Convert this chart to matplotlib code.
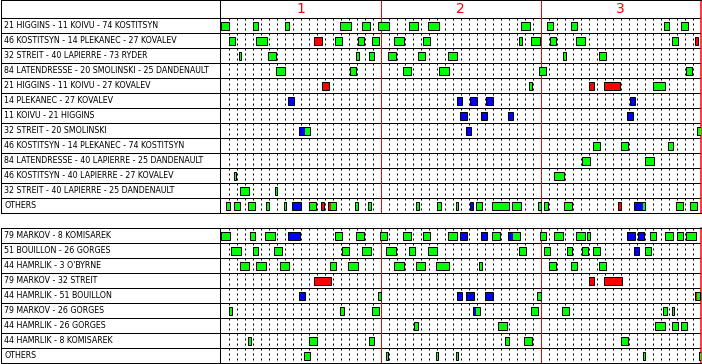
import matplotlib.pyplot as plt

# line combinations, one row each
top_labels = [
    '21 HIGGINS - 11 KOIVU - 74 KOSTITSYN',
    '46 KOSTITSYN - 14 PLEKANEC - 27 KOVALEV',
    '32 STREIT - 40 LAPIERRE - 73 RYDER',
    '84 LATENDRESSE - 20 SMOLINSKI - 25 DANDENAULT',
    '21 HIGGINS - 11 KOIVU - 27 KOVALEV',
    '14 PLEKANEC - 27 KOVALEV',
    '11 KOIVU - 21 HIGGINS',
    '32 STREIT - 20 SMOLINSKI',
    '46 KOSTITSYN - 14 PLEKANEC - 74 KOSTITSYN',
    '84 LATENDRESSE - 40 LAPIERRE - 25 DANDENAULT',
    '46 KOSTITSYN - 40 LAPIERRE - 27 KOVALEV',
    '32 STREIT - 40 LAPIERRE - 25 DANDENAULT',
    'OTHERS',
]
bottom_labels = [
    '79 MARKOV - 8 KOMISAREK',
    '51 BOUILLON - 26 GORGES',
    "44 HAMRLIK - 3 O'BYRNE",
    '79 MARKOV - 32 STREIT',
    '44 HAMRLIK - 51 BOUILLON',
    '79 MARKOV - 26 GORGES',
    '44 HAMRLIK - 26 GORGES',
    '44 HAMRLIK - 8 KOMISAREK',
    'OTHERS',
]
periods = ['1', '2', '3']

# E = even strength, P = power play, K = penalty kill
kind_colors = {'E': '#00ff00', 'P': '#0000ff', 'K': '#ff0000'}

# (row, start min, end min, kind)
top_shifts = [
    (0, 0.0, 1.0, 'E'), (0, 4.05, 4.7, 'E'), (0, 8.05, 8.55, 'E'), (0, 14.9, 16.3, 'E'),
    (0, 17.7, 18.7, 'E'), (0, 19.65, 21.1, 'E'), (0, 23.5, 24.7, 'E'), (0, 25.9, 27.3, 'E'),
    (0, 37.5, 38.7, 'E'), (0, 40.75, 41.5, 'E'), (0, 43.8, 44.6, 'E'), (0, 55.4, 56.1, 'E'),
    (0, 57.5, 58.4, 'E'),
    (1, 1.05, 1.85, 'E'), (1, 4.4, 5.8, 'E'), (1, 11.65, 12.65, 'K'), (1, 14.3, 15.2, 'E'),
    (1, 17.2, 17.95, 'E'), (1, 18.9, 19.8, 'E'), (1, 21.7, 22.9, 'E'), (1, 25.3, 26.2, 'E'),
    (1, 37.3, 37.7, 'E'), (1, 38.8, 39.95, 'E'), (1, 41.2, 41.95, 'E'), (1, 44.4, 45.5, 'E'),
    (1, 56.4, 57.2, 'E'), (1, 59.3, 59.7, 'K'),
    (2, 2.25, 2.6, 'E'), (2, 5.9, 6.95, 'E'), (2, 16.9, 17.3, 'E'), (2, 18.5, 19.2, 'E'),
    (2, 20.9, 21.95, 'E'), (2, 24.7, 25.5, 'E'), (2, 28.4, 29.6, 'E'), (2, 42.8, 43.2, 'E'),
    (2, 47.3, 48.2, 'E'),
    (3, 6.9, 8.1, 'E'), (3, 16.2, 16.95, 'E'), (3, 22.8, 23.8, 'E'), (3, 27.3, 28.6, 'E'),
    (3, 39.8, 40.7, 'E'), (3, 58.2, 58.95, 'E'),
    (4, 12.65, 13.6, 'K'), (4, 38.5, 38.95, 'E'), (4, 46.0, 46.7, 'K'), (4, 47.9, 49.95, 'K'),
    (4, 54.0, 55.6, 'E'),
    (5, 8.4, 9.2, 'P'), (5, 29.5, 30.2, 'P'), (5, 31.2, 32.0, 'P'), (5, 33.2, 34.0, 'P'),
    (5, 51.2, 51.85, 'P'),
    (6, 29.9, 30.8, 'P'), (6, 32.5, 33.3, 'P'), (6, 35.9, 36.6, 'P'), (6, 50.8, 51.5, 'P'),
    (7, 9.8, 10.5, 'P'), (7, 10.5, 11.2, 'E'), (7, 30.7, 31.3, 'P'), (7, 59.5, 60.0, 'E'),
    (8, 46.5, 47.4, 'E'), (8, 50.0, 50.95, 'E'), (8, 55.9, 56.6, 'E'),
    (9, 45.2, 46.2, 'E'), (9, 53.0, 54.2, 'E'),
    (10, 1.65, 1.95, 'E'), (10, 41.7, 42.95, 'E'),
    (11, 2.4, 3.6, 'E'), (11, 6.75, 7.1, 'E'),
    (12, 0.65, 1.2, 'E'), (12, 1.65, 2.45, 'E'), (12, 3.4, 4.3, 'E'), (12, 5.65, 6.1, 'E'),
    (12, 7.9, 8.2, 'E'), (12, 8.9, 10.0, 'P'), (12, 11.0, 11.95, 'E'), (12, 12.5, 12.95, 'K'),
    (12, 13.4, 13.75, 'K'), (12, 13.75, 14.4, 'E'), (12, 16.8, 17.2, 'E'), (12, 18.4, 18.8, 'E'),
    (12, 24.4, 24.8, 'E'), (12, 27.1, 27.5, 'E'), (12, 29.4, 29.7, 'E'), (12, 31.2, 31.5, 'P'),
    (12, 31.9, 32.7, 'E'), (12, 33.9, 36.1, 'E'), (12, 36.4, 36.6, 'P'), (12, 36.6, 37.5, 'E'),
    (12, 39.7, 40.1, 'E'), (12, 40.4, 40.9, 'E'), (12, 42.9, 43.9, 'E'), (12, 49.7, 50.1, 'K'),
    (12, 51.7, 52.8, 'P'), (12, 52.8, 53.1, 'E'), (12, 56.9, 57.8, 'E'), (12, 58.7, 59.5, 'E'),
]
bottom_shifts = [
    (0, 0.0, 1.15, 'E'), (0, 3.65, 4.35, 'E'), (0, 5.5, 6.8, 'E'), (0, 8.4, 9.95, 'P'),
    (0, 14.3, 15.2, 'E'), (0, 16.9, 17.9, 'E'), (0, 19.9, 20.8, 'E'), (0, 22.8, 23.8, 'E'),
    (0, 25.3, 26.2, 'E'), (0, 28.4, 29.6, 'E'), (0, 29.9, 30.8, 'P'), (0, 32.5, 33.3, 'P'),
    (0, 33.9, 34.95, 'E'), (0, 35.9, 36.6, 'P'), (0, 36.6, 37.4, 'E'), (0, 39.9, 40.7, 'E'),
    (0, 41.7, 42.8, 'E'), (0, 44.4, 45.5, 'E'), (0, 45.8, 46.2, 'E'), (0, 50.8, 51.8, 'P'),
    (0, 52.2, 52.9, 'P'), (0, 53.7, 54.4, 'E'), (0, 55.5, 56.6, 'E'), (0, 57.0, 57.8, 'E'),
    (0, 58.2, 59.4, 'E'),
    (1, 1.3, 2.5, 'E'), (1, 4.05, 4.7, 'E'), (1, 6.65, 7.7, 'E'), (1, 15.2, 16.05, 'E'),
    (1, 17.7, 18.8, 'E'), (1, 20.7, 21.95, 'E'), (1, 23.5, 24.3, 'E'), (1, 25.9, 27.1, 'E'),
    (1, 37.3, 38.2, 'E'), (1, 40.4, 41.2, 'E'), (1, 43.3, 43.95, 'E'), (1, 45.2, 45.95, 'E'),
    (1, 46.5, 47.4, 'E'), (1, 51.7, 52.3, 'P'), (1, 53.0, 53.8, 'E'),
    (2, 2.4, 3.6, 'E'), (2, 4.4, 5.65, 'E'), (2, 7.4, 8.5, 'E'), (2, 13.7, 14.4, 'E'),
    (2, 15.9, 17.2, 'E'), (2, 21.7, 22.9, 'E'), (2, 24.4, 25.5, 'E'), (2, 26.9, 28.5, 'E'),
    (2, 32.3, 32.7, 'E'), (2, 41.05, 41.95, 'E'), (2, 43.8, 44.6, 'E'), (2, 47.3, 48.2, 'E'),
    (3, 11.65, 13.8, 'K'), (3, 46.0, 46.7, 'K'), (3, 47.9, 50.2, 'K'),
    (4, 9.8, 10.6, 'P'), (4, 19.65, 20.05, 'E'), (4, 29.5, 30.2, 'P'), (4, 30.7, 31.7, 'P'),
    (4, 33.1, 34.1, 'P'), (4, 39.5, 40.05, 'E'), (4, 59.3, 59.6, 'K'), (4, 59.6, 59.95, 'E'),
    (5, 1.05, 1.45, 'E'), (5, 14.9, 15.4, 'E'), (5, 18.9, 19.8, 'E'), (5, 31.5, 31.9, 'P'),
    (5, 31.9, 32.4, 'E'), (5, 38.8, 39.7, 'E'), (5, 42.7, 43.5, 'E'), (5, 55.3, 55.8, 'E'),
    (5, 56.4, 56.7, 'E'),
    (6, 24.2, 24.7, 'E'), (6, 34.7, 35.8, 'E'), (6, 54.3, 55.5, 'E'), (6, 56.4, 57.2, 'E'),
    (6, 57.5, 58.3, 'E'),
    (7, 3.4, 3.8, 'E'), (7, 11.0, 12.0, 'E'), (7, 18.5, 19.2, 'E'), (7, 35.5, 36.1, 'E'),
    (7, 37.9, 38.95, 'E'), (7, 50.0, 50.95, 'E'),
    (8, 10.4, 11.2, 'E'), (8, 20.7, 20.95, 'E'), (8, 26.9, 27.2, 'E'), (8, 29.4, 29.7, 'E'),
    (8, 52.8, 53.1, 'E'), (8, 59.8, 60.0, 'E'),
]

PX = 0.72  # one pixel in points at dpi 100
fig = plt.figure(figsize=(7.02, 3.64), dpi=100)


def draw_panel(ax, labels, shifts, header):
    n = len(labels)
    top = -1.19 if header else 0
    ax.set_xlim(-27.5, 60)
    ax.set_ylim(n, top)
    ax.set_xticks([])
    ax.set_yticks([])
    for s in ax.spines.values():
        s.set_linewidth(PX)
        s.set_color('black')
    ax.spines['right'].set_color('red')
    ax.spines['right'].set_linewidth(1.5 * PX)

    ax.hlines(range(0 if header else 1, n), -27.5, 60, color='black', lw=PX, zorder=2)
    ax.vlines(-0.12, top, n, color='black', lw=PX, zorder=2)
    minutes = [m for m in range(1, 60) if m % 20]
    ax.vlines(minutes, 0, n, color='black', lw=PX, linestyles=(0, (2, 3)), zorder=1)
    ax.vlines([20, 40], top, n, color='red', lw=PX, zorder=2)

    for i, lab in enumerate(labels):
        ax.text(-27.0, i + 0.5, lab, ha='left', va='center', fontsize=6.3,
                fontstretch='condensed', color='black')

    # fills first, then one outline per joined shift
    for row, a, b, k in shifts:
        ax.barh(row + 0.5, b - a, left=a, height=0.5, color=kind_colors[k], lw=0, zorder=3)
    spans = []
    for row, a, b, k in sorted(shifts):
        if spans and spans[-1][0] == row and abs(spans[-1][2] - a) < 0.01:
            spans[-1][2] = b
        else:
            spans.append([row, a, b])
    for row, a, b in spans:
        ax.barh(row + 0.5, b - a, left=a, height=0.5, fill=False,
                edgecolor='black', lw=PX, zorder=4)

    if header:
        for j, p in enumerate(periods):
            ax.text(10 + 20 * j, -0.6, p, ha='center', va='center', fontsize=10, color='red')


ax_top = fig.add_axes([0.5 / 702, 1 - 213.3 / 364, 700 / 702, 212.85 / 364])
draw_panel(ax_top, top_labels, top_shifts, True)

ax_bot = fig.add_axes([0.5 / 702, 1 - 363.3 / 364, 700 / 702, 135 / 364])
draw_panel(ax_bot, bottom_labels, bottom_shifts, False)

fig.savefig('out.png', dpi=100)
